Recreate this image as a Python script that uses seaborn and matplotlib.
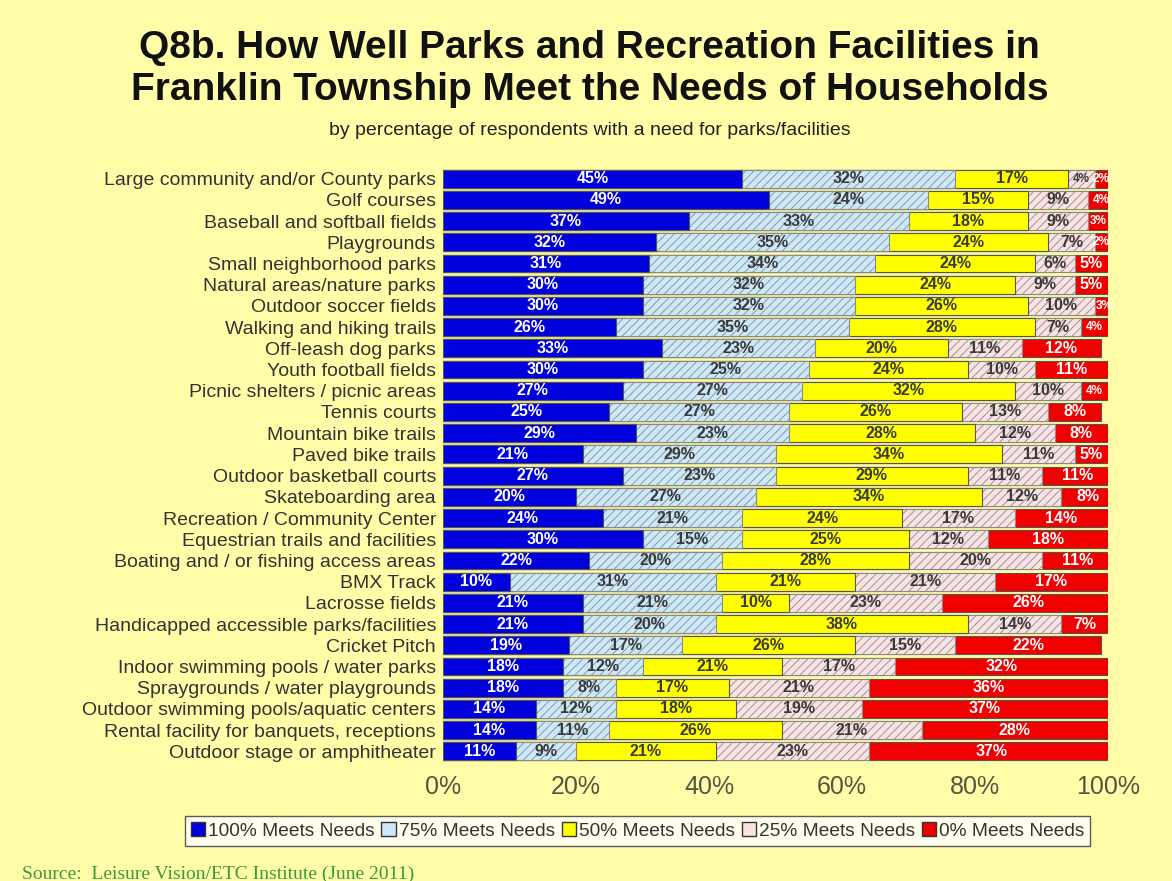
import numpy as np
import pandas as pd
import matplotlib
matplotlib.use("Agg")
import matplotlib.pyplot as plt
from matplotlib.patches import Patch
from matplotlib.ticker import FuncFormatter
import seaborn as sns

facilities = [
    "Large community and/or County parks", "Golf courses", "Baseball and softball fields",
    "Playgrounds", "Small neighborhood parks", "Natural areas/nature parks",
    "Outdoor soccer fields", "Walking and hiking trails", "Off-leash dog parks",
    "Youth football fields", "Picnic shelters / picnic areas", "Tennis courts",
    "Mountain bike trails", "Paved bike trails", "Outdoor basketball courts",
    "Skateboarding area", "Recreation / Community Center", "Equestrian trails and facilities",
    "Boating and / or fishing access areas", "BMX Track", "Lacrosse fields",
    "Handicapped accessible parks/facilities", "Cricket Pitch",
    "Indoor swimming pools / water parks", "Spraygrounds / water playgrounds",
    "Outdoor swimming pools/aquatic centers", "Rental facility for banquets, receptions",
    "Outdoor stage or amphitheater",
]
meets_100 = [45, 49, 37, 32, 31, 30, 30, 26, 33, 30, 27, 25, 29, 21, 27, 20, 24, 30, 22, 10, 21, 21, 19, 18, 18, 14, 14, 11]
meets_75 = [32, 24, 33, 35, 34, 32, 32, 35, 23, 25, 27, 27, 23, 29, 23, 27, 21, 15, 20, 31, 21, 20, 17, 12, 8, 12, 11, 9]
meets_50 = [17, 15, 18, 24, 24, 24, 26, 28, 20, 24, 32, 26, 28, 34, 29, 34, 24, 25, 28, 21, 10, 38, 26, 21, 17, 18, 26, 21]
meets_25 = [4, 9, 9, 7, 6, 9, 10, 7, 11, 10, 10, 13, 12, 11, 11, 12, 17, 12, 20, 21, 23, 14, 15, 17, 21, 19, 21, 23]
meets_0 = [2, 4, 3, 2, 5, 5, 3, 4, 12, 11, 4, 8, 8, 5, 11, 8, 14, 18, 11, 17, 26, 7, 22, 32, 36, 37, 28, 37]

series_names = ["100% Meets Needs", "75% Meets Needs", "50% Meets Needs", "25% Meets Needs", "0% Meets Needs"]
series_vals = [meets_100, meets_75, meets_50, meets_25, meets_0]
series_colors = ["#0000DD", "#CBE9FA", "#FFFF00", "#FBE2E2", "#F00000"]
series_hatch = [None, "////", None, "////", None]
label_colors = ["white", "#3A3A3A", "#3A3A3A", "#3A3A3A", "white"]

bg = "#FFFDA8"
sns.set_theme(style="white")
plt.rcParams["font.family"] = ["Liberation Sans", "DejaVu Sans"]
plt.rcParams["hatch.linewidth"] = 0.6

df = pd.DataFrame({"facility": facilities})
for name, vals in zip(series_names, series_vals):
    df[name] = vals
cum = df[series_names].cumsum(axis=1)

fig = plt.figure(figsize=(11.72, 8.81), dpi=100, facecolor=bg)
ax = fig.add_axes([443 / 1172, 1 - 762 / 881, 665 / 1172, 594 / 881])
ax.set_facecolor(bg)

# stacked bars: draw cumulative totals from the outermost segment inwards
for i in range(len(series_names) - 1, -1, -1):
    sns.barplot(
        data=df.assign(total=cum[series_names[i]]), x="total", y="facility",
        orient="h", color=series_colors[i], saturation=1, width=0.84,
        edgecolor="#8A8A8A" if series_hatch[i] else "#555555",
        linewidth=0.8, hatch=series_hatch[i], ax=ax,
    )

# segment value labels (narrow segments get a smaller font)
for i, name in enumerate(series_names):
    starts = cum[name] - df[name]
    for row, (s, v) in enumerate(zip(starts, df[name])):
        size = 11.5 if v >= 5 else 8.5
        ax.text(s + v / 2, row, f"{v}%", ha="center", va="center",
                fontsize=size, fontweight="bold", color=label_colors[i],
                family=["Liberation Sans Narrow", "Liberation Sans", "DejaVu Sans"])

ax.set_xlim(0, 100)
ax.set_ylim(len(facilities) - 0.5, -0.5)
ax.set_xticks(np.arange(0, 101, 20))
ax.xaxis.set_major_formatter(FuncFormatter(lambda v, p: f"{int(v)}%"))
ax.set_xlabel("")
ax.set_ylabel("")
ax.tick_params(axis="x", labelsize=18, colors="#555544", pad=9, length=0)
ax.tick_params(axis="y", labelsize=14, colors="#333333", pad=5, length=0)
for sp in ax.spines.values():
    sp.set_visible(False)

fig.text(0.503, 0.946, "Q8b. How Well Parks and Recreation Facilities in",
         ha="center", va="center", fontsize=28, fontweight="bold", color="#111111")
fig.text(0.503, 0.898, "Franklin Township Meet the Needs of Households",
         ha="center", va="center", fontsize=28, fontweight="bold", color="#111111")
fig.text(0.503, 0.852, "by percentage of respondents with a need for parks/facilities",
         ha="center", va="center", fontsize=14, color="#222222")

handles = [Patch(facecolor=c, edgecolor="#333333") for c in series_colors]
leg = fig.legend(handles, series_names, loc="center", bbox_to_anchor=(0.544, 1 - 831 / 881),
                 ncol=5, frameon=True, fontsize=13.8, handlelength=0.75, handleheight=0.75,
                 handletextpad=0.15, columnspacing=0.35, borderpad=0.3, fancybox=False)
leg.get_frame().set_facecolor("white")
leg.get_frame().set_edgecolor("#333333")
leg.get_frame().set_linewidth(1.0)
for t in leg.get_texts():
    t.set_color("#333333")

fig.text(22 / 1172, 1 - 866 / 881, "Source:  Leisure Vision/ETC Institute (June 2011)",
         ha="left", va="top", fontsize=14, color="#3C9A3C", family=["Liberation Serif"])

fig.savefig("out.png", dpi=100, facecolor=bg)
